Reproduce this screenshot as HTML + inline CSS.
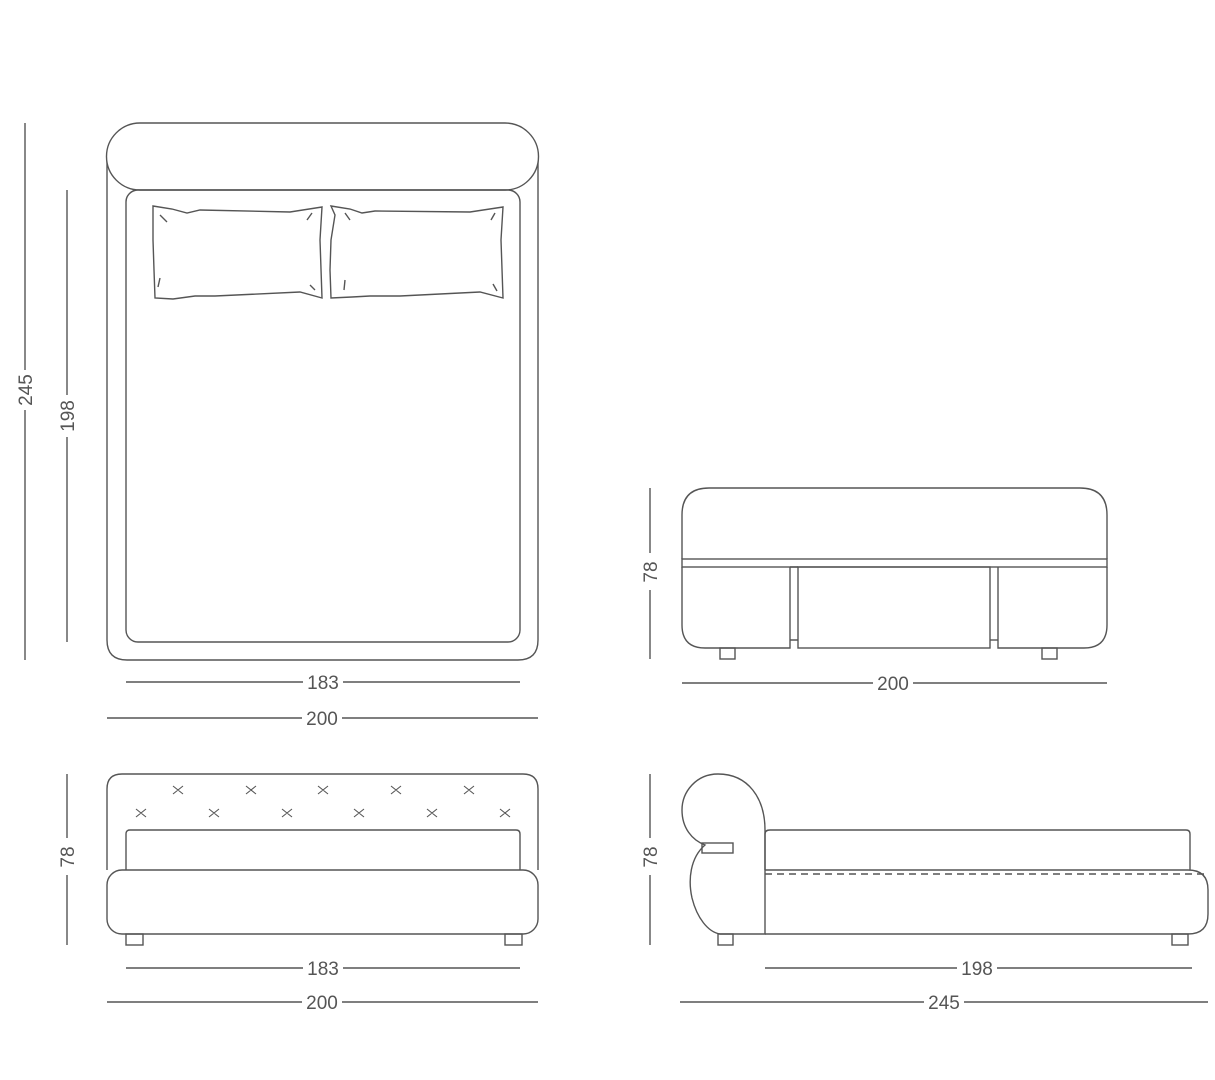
<!DOCTYPE html>
<html><head><meta charset="utf-8"><style>
html,body{margin:0;padding:0;background:#fff}
svg{display:block}
text{font-family:"Liberation Sans",sans-serif;font-size:19px;fill:#555}
</style></head><body>
<svg width="1215" height="1080" viewBox="0 0 1215 1080" xmlns="http://www.w3.org/2000/svg">
<g fill="none" stroke="#555" stroke-width="1.4">
<!-- top view -->
<path d="M107,156 L107,640 Q107,660 127,660 L518,660 Q538,660 538,640 L538,156"/>
<path d="M140,123 L505,123 A33,33 0 0 1 505,190 L140,190 A33,33 0 0 1 140,123 Z" fill="#fff"/>
<rect x="126" y="190" width="394" height="452" rx="12"/>
<path d="M153,206 L172,209 L187,213 L200,210 L290,212 L322,207 L320,240 L322,298 L300,292 L215,296 L195,296 L173,299 L155,298 L154,270 L153,240 Z"/>
<path d="M331,206 L350,209 L362,213 L375,211 L470,212 L503,207 L501,240 L503,298 L480,292 L400,296 L370,296 L352,297 L331,298 L330,270 L331,240 L335,215 Z"/>
<path d="M160,215 L167,222 M312,213 L307,220 M160,278 L158,287 M310,285 L315,290 M345,213 L350,220 M495,213 L491,220 M345,280 L344,290 M493,284 L497,291"/>
<!-- dims top -->
<line x1="25" y1="123" x2="25" y2="370"/><line x1="25" y1="410" x2="25" y2="660"/>
<line x1="67" y1="190" x2="67" y2="395"/><line x1="67" y1="437" x2="67" y2="642"/>
<line x1="126" y1="682" x2="303" y2="682"/><line x1="343" y1="682" x2="520" y2="682"/>
<line x1="107" y1="718" x2="302" y2="718"/><line x1="342" y1="718" x2="538" y2="718"/>
<!-- front view -->
<path d="M107,870 L107,789 Q107,774 122,774 L523,774 Q538,774 538,789 L538,870"/>
<path d="M126,870 L126,834 Q126,830 130,830 L516,830 Q520,830 520,834 L520,870"/>
<rect x="107" y="870" width="431" height="64" rx="15" fill="#fff"/>
<rect x="126" y="934" width="17" height="11"/><rect x="505" y="934" width="17" height="11"/>
<g stroke-width="1.1">
<path d="M173,786 L183,794 M173,794 L183,786 M246,786 L256,794 M246,794 L256,786 M318,786 L328,794 M318,794 L328,786 M391,786 L401,794 M391,794 L401,786 M464,786 L474,794 M464,794 L474,786"/>
<path d="M136,809 L146,817 M136,817 L146,809 M209,809 L219,817 M209,817 L219,809 M282,809 L292,817 M282,817 L292,809 M354,809 L364,817 M354,817 L364,809 M427,809 L437,817 M427,817 L437,809 M500,809 L510,817 M500,817 L510,809"/>
</g>
<line x1="67" y1="774" x2="67" y2="838"/><line x1="67" y1="875" x2="67" y2="945"/>
<line x1="126" y1="968" x2="303" y2="968"/><line x1="343" y1="968" x2="520" y2="968"/>
<line x1="107" y1="1002" x2="302" y2="1002"/><line x1="342" y1="1002" x2="538" y2="1002"/>
<!-- foot view -->
<path d="M682,559 L682,515 Q682,488 709,488 L1080,488 Q1107,488 1107,515 L1107,559"/>
<rect x="682" y="559" width="425" height="8"/>
<path d="M682,567 L682,625 Q682,648 705,648 L790,648 L790,567"/>
<path d="M790,567 L798,567 M790,640 L798,640"/>
<rect x="798" y="567" width="192" height="81"/>
<path d="M990,640 L998,640"/>
<path d="M998,567 L998,648 L1084,648 Q1107,648 1107,625 L1107,567"/>
<rect x="720" y="648" width="15" height="11"/><rect x="1042" y="648" width="15" height="11"/>
<line x1="650" y1="488" x2="650" y2="553"/><line x1="650" y1="590" x2="650" y2="659"/>
<line x1="682" y1="683" x2="873" y2="683"/><line x1="913" y1="683" x2="1107" y2="683"/>
<!-- side view -->
<path d="M765,934 L765,830 C765,798 748,774 718,774 C696,774 682,792 682,810 C682,828 692,840 705,845 C690,858 688,880 692,898 C697,918 708,932 720,934 Z"/>
<rect x="702" y="843" width="31" height="10"/>
<path d="M765,870 L765,834 Q765,830 770,830 L1186,830 Q1190,830 1190,834 L1190,870"/>
<path d="M765,870 L1188,870 Q1208,870 1208,890 L1208,914 Q1208,934 1188,934 L765,934"/>
<line x1="765" y1="874" x2="1206" y2="874" stroke-dasharray="7,5"/>
<rect x="718" y="934" width="15" height="11"/><rect x="1172" y="934" width="16" height="11"/>
<line x1="650" y1="774" x2="650" y2="838"/><line x1="650" y1="875" x2="650" y2="945"/>
<line x1="765" y1="968" x2="957" y2="968"/><line x1="997" y1="968" x2="1192" y2="968"/>
<line x1="680" y1="1002" x2="924" y2="1002"/><line x1="964" y1="1002" x2="1208" y2="1002"/>
</g>
<text x="323" y="689" text-anchor="middle">183</text>
<text x="322" y="725" text-anchor="middle">200</text>
<text x="323" y="975" text-anchor="middle">183</text>
<text x="322" y="1009" text-anchor="middle">200</text>
<text x="893" y="690" text-anchor="middle">200</text>
<text x="977" y="975" text-anchor="middle">198</text>
<text x="944" y="1009" text-anchor="middle">245</text>
<text transform="translate(32,390) rotate(-90)" text-anchor="middle">245</text>
<text transform="translate(74,416) rotate(-90)" text-anchor="middle">198</text>
<text transform="translate(74,857) rotate(-90)" text-anchor="middle">78</text>
<text transform="translate(657,572) rotate(-90)" text-anchor="middle">78</text>
<text transform="translate(657,857) rotate(-90)" text-anchor="middle">78</text>
</svg>
</body></html>
